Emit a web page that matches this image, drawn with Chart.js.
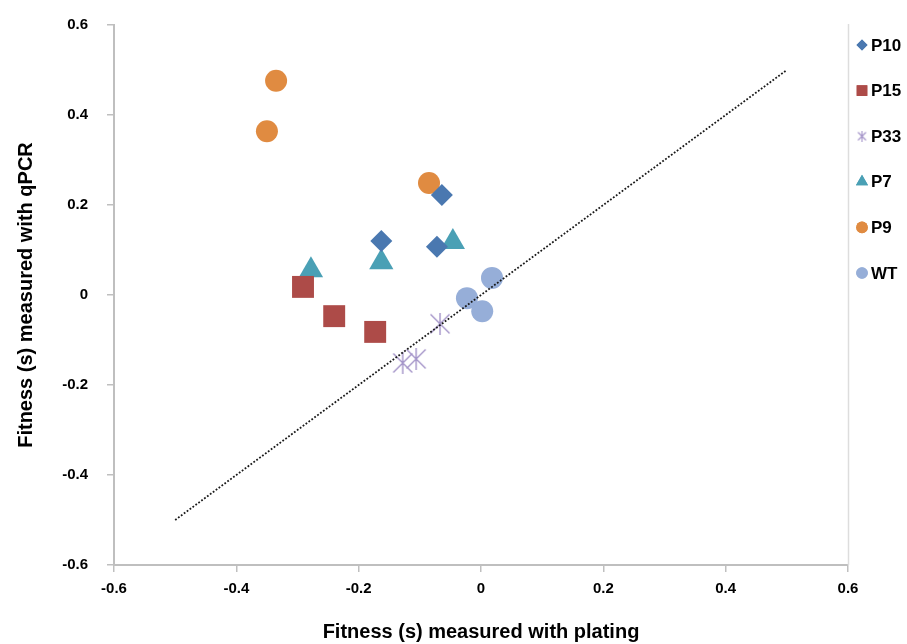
<!DOCTYPE html>
<html>
<head>
<meta charset="utf-8">
<script src="https://cdn.jsdelivr.net/npm/chart.js@4/dist/chart.umd.min.js"></script>
<style>
  html, body { margin: 0; padding: 0; background: #fff; }
  #wrap { width: 907px; height: 644px; }
</style>
</head>
<body>
<div id="wrap"><canvas id="myChart" width="907" height="644"></canvas></div>
<script>
// values
const seriesNames = ['P10', 'P15', 'P33', 'P7', 'P9', 'WT'];
const p10X = [-0.064, -0.163, -0.072];
const p10Y = [0.222, 0.120, 0.107];
const p15X = [-0.291, -0.240, -0.173];
const p15Y = [0.018, -0.047, -0.082];
const p33X = [-0.067, -0.128, -0.106];
const p33Y = [-0.064, -0.151, -0.142];
const p7X = [-0.278, -0.163, -0.046];
const p7Y = [0.055, 0.073, 0.118];
const p9X = [-0.335, -0.350, -0.085];
const p9Y = [0.476, 0.364, 0.249];
const wtX = [0.018, -0.023, 0.002];
const wtY = [0.038, -0.007, -0.036];
const diagX = [-0.5, 0.5];
const diagY = [-0.5, 0.5];
const tickValues = [-0.6, -0.4, -0.2, 0, 0.2, 0.4, 0.6];

const FONT = "'Liberation Sans', Arial, sans-serif";

function pts(xs, ys) {
    return xs.map((x, i) => ({ x: x, y: ys[i] }));
}

// asterisk marker (vertical bar + X), like the spreadsheet star
function makeStar(size, color, lw) {
    const c = document.createElement('canvas');
    c.width = size; c.height = size;
    const g = c.getContext('2d');
    g.strokeStyle = color;
    g.lineWidth = lw;
    const m = size / 2, e = 1.5;
    g.beginPath();
    g.moveTo(m, 0); g.lineTo(m, size);
    g.moveTo(e, e); g.lineTo(size - e, size - e);
    g.moveTo(size - e, e); g.lineTo(e, size - e);
    g.stroke();
    return c;
}
const starBig = makeStar(22, '#A393C8', 1.4);
const starSmall = makeStar(11, '#A393C8', 1.1);

// legend drawn beside the plot, taken from the datasets
Chart.register({
    id: 'sideLegend',
    afterDraw: function(chart) {
        const ctx = chart.ctx;
        const area = chart.chartArea;
        ctx.save();
        // thin frame line on the right of the plot
        ctx.strokeStyle = '#DDDDDD';
        ctx.lineWidth = 1.5;
        ctx.beginPath();
        ctx.moveTo(area.right + 0.5, area.top - 1);
        ctx.lineTo(area.right + 0.5, area.bottom);
        ctx.stroke();

        ctx.font = 'bold 17px ' + FONT;
        ctx.textBaseline = 'middle';
        ctx.textAlign = 'left';
        ctx.fillStyle = '#000';
        let row = 0;
        chart.data.datasets.forEach(function(ds) {
            if (!ds.legendStyle) return;
            const y = 45 + row * 45.6;
            const x = 862;
            const st = ds.legendStyle;
            if (st.style === 'star') {
                ctx.drawImage(starSmall, x - 5.5, y - 5.5);
            } else {
                ctx.fillStyle = ds.backgroundColor;
                Chart.helpers.drawPoint(ctx, { pointStyle: st.style, radius: st.r, rotation: 0, borderWidth: 0 }, x, y);
                ctx.fill();
            }
            ctx.fillStyle = '#000';
            ctx.fillText(ds.label, 871, y + 1);
            row++;
        });
        ctx.restore();
    }
});

const markers = [
    { xs: p10X, ys: p10Y, color: '#4A78B0', style: 'rectRot', r: 11, lr: 5.5 },
    { xs: p15X, ys: p15Y, color: '#AD4B48', style: 'rect', r: 15.5, lr: 7.5 },
    { xs: p33X, ys: p33Y, color: '#A393C8', style: 'star', r: 11, lr: 5.5 },
    { xs: p7X, ys: p7Y, color: '#4AA0B5', style: 'triangle', r: 14, lr: 7 },
    { xs: p9X, ys: p9Y, color: '#E08B41', style: 'circle', r: 11, lr: 5.8 },
    { xs: wtX, ys: wtY, color: '#96AED8', style: 'circle', r: 11, lr: 5.8 }
];

const datasets = markers.map((m, i) => ({
    label: seriesNames[i],
    data: pts(m.xs, m.ys),
    backgroundColor: m.color,
    borderColor: m.color,
    borderWidth: 0,
    pointStyle: m.style === 'star' ? starBig : m.style,
    pointRadius: m.r,
    pointHoverRadius: m.r,
    legendStyle: { style: m.style, r: m.lr },
    order: 1
}));

datasets.push({
    label: '',
    type: 'line',
    data: pts(diagX, diagY),
    borderColor: '#1A1A1A',
    borderWidth: 1.8,
    borderDash: [1.8, 1.8],
    pointRadius: 0,
    fill: false,
    order: 0
});

const axisColor = '#BFBFBF';

new Chart(document.getElementById('myChart').getContext('2d'), {
    type: 'scatter',
    data: { datasets: datasets },
    options: {
        responsive: false,
        animation: false,
        layout: { padding: { left: 0, right: 59, top: 0, bottom: 0 } },
        plugins: {
            legend: { display: false },
            tooltip: { enabled: false }
        },
        scales: {
            x: {
                type: 'linear',
                min: -0.6,
                max: 0.6,
                afterBuildTicks: function(scale) {
                    scale.ticks = tickValues.map(v => ({ value: v }));
                },
                afterFit: function(scale) { scale.height = 79; },
                ticks: {
                    color: '#000',
                    padding: 8,
                    font: { family: FONT, size: 15, weight: 'bold' },
                    callback: v => Math.abs(v) < 1e-9 ? '0' : v.toFixed(1)
                },
                grid: { drawOnChartArea: false, drawTicks: true, tickLength: 7, color: axisColor, lineWidth: 1.5 },
                border: { color: axisColor, width: 2 },
                title: {
                    display: true,
                    text: 'Fitness (s) measured with plating',
                    color: '#000',
                    padding: { top: 2, bottom: 0 },
                    font: { family: FONT, size: 20, weight: 'bold' }
                }
            },
            y: {
                type: 'linear',
                min: -0.6,
                max: 0.6,
                afterBuildTicks: function(scale) {
                    scale.ticks = tickValues.map(v => ({ value: v }));
                },
                afterFit: function(scale) {
                    scale.width = 114;
                    scale.paddingTop = 25;
                },
                ticks: {
                    color: '#000',
                    padding: 19,
                    font: { family: FONT, size: 15, weight: 'bold' },
                    callback: v => Math.abs(v) < 1e-9 ? '0' : v.toFixed(1)
                },
                grid: { drawOnChartArea: false, drawTicks: true, tickLength: 7, color: axisColor, lineWidth: 1.5 },
                border: { color: axisColor, width: 2 },
                title: {
                    display: true,
                    text: 'Fitness (s) measured with qPCR',
                    color: '#000',
                    padding: { top: 14, bottom: 0 },
                    font: { family: FONT, size: 20, weight: 'bold' }
                }
            }
        }
    }
});
</script>
</body>
</html>
